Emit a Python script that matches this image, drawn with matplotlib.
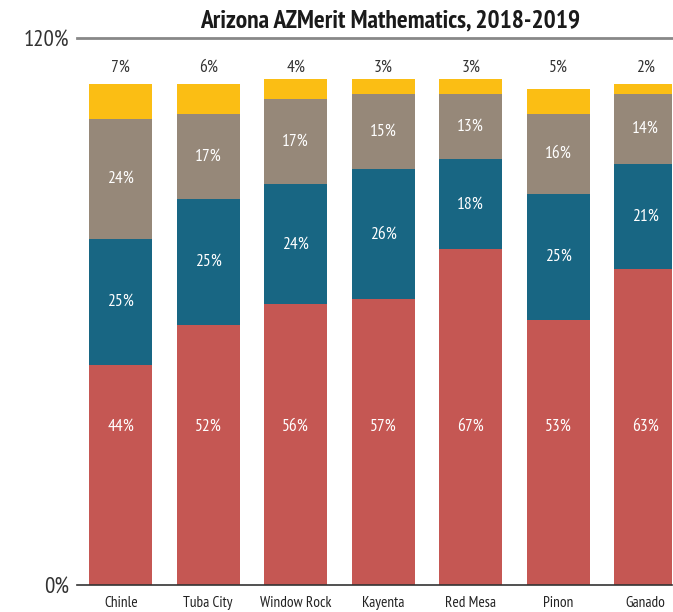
import matplotlib
matplotlib.use("Agg")
import matplotlib.pyplot as plt
from matplotlib import font_manager
import numpy as np

categories = ["Chinle", "Tuba City", "Window Rock", "Kayenta", "Red Mesa", "Pinon", "Ganado"]
red = [44, 52, 56, 57, 67, 53, 63]
blue = [25, 25, 24, 26, 18, 25, 21]
gray = [24, 17, 17, 15, 13, 16, 14]
yellow = [7, 6, 4, 3, 3, 5, 2]
ytick_vals = [0, 109.2]
ytick_labels = ["0%", "120%"]

colors = ["#C55753", "#186683", "#968879", "#FBBE14"]
avail = set(f.name for f in font_manager.fontManager.ttflist)
cands = ["PT Sans Narrow", "Roboto Condensed", "Open Sans Condensed", "Encode Sans Condensed",
         "Archivo Narrow", "Asap Condensed", "Liberation Sans Narrow"]
chosen = next((c for c in cands if c in avail), "DejaVu Sans")
fam = [chosen, "DejaVu Sans"]
plt.rcParams["font.family"] = fam

fig = plt.figure(figsize=(6.73, 6.12), dpi=100)
ax = fig.add_axes([0.1144, 0.0441, 0.8841, 0.8938])
x = np.arange(len(categories))
w = 0.72
series = [red, blue, gray, yellow]
bottom = np.zeros(len(categories))
for i, (s, c) in enumerate(zip(series, colors)):
    s = np.array(s, dtype=float)
    ax.bar(x, s, w, bottom=bottom, color=c, zorder=2)
    for xi, b, v in zip(x, bottom, s):
        if i == 0:
            ax.text(xi, 31.5, f"{int(v)}%", ha="center", va="center", color="white", fontsize=12.5)
        elif i in (1, 2):
            ax.text(xi, b + v / 2, f"{int(v)}%", ha="center", va="center", color="white", fontsize=12.5)
        else:
            ax.text(xi, 103.2, f"{int(v)}%", ha="center", va="center", color="#333333", fontsize=12.5)
    bottom += s

ax.set_xlim(-0.5, 6.3)
ax.set_ylim(ytick_vals[0], ytick_vals[1])
ax.set_yticks(ytick_vals)
ax.set_yticklabels(ytick_labels, fontsize=16.5, color="#333333")
ax.set_xticks(x)
ax.set_xticklabels(categories, fontsize=11, color="#222222")
ax.tick_params(axis="both", length=0)
ax.tick_params(axis="y", pad=6)
ax.tick_params(axis="x", pad=8)
for side in ["left", "right"]:
    ax.spines[side].set_visible(False)
ax.spines["top"].set_color("#888888")
ax.spines["top"].set_linewidth(2)
ax.spines["bottom"].set_color("#333333")
ax.spines["bottom"].set_linewidth(1.2)

fig.text(0.58, 0.966, "Arizona AZMerit Mathematics, 2018-2019", ha="center", va="center",
         fontsize=18.4, fontweight="bold", color="#1a1a1a")

fig.savefig("out.png", dpi=100)
